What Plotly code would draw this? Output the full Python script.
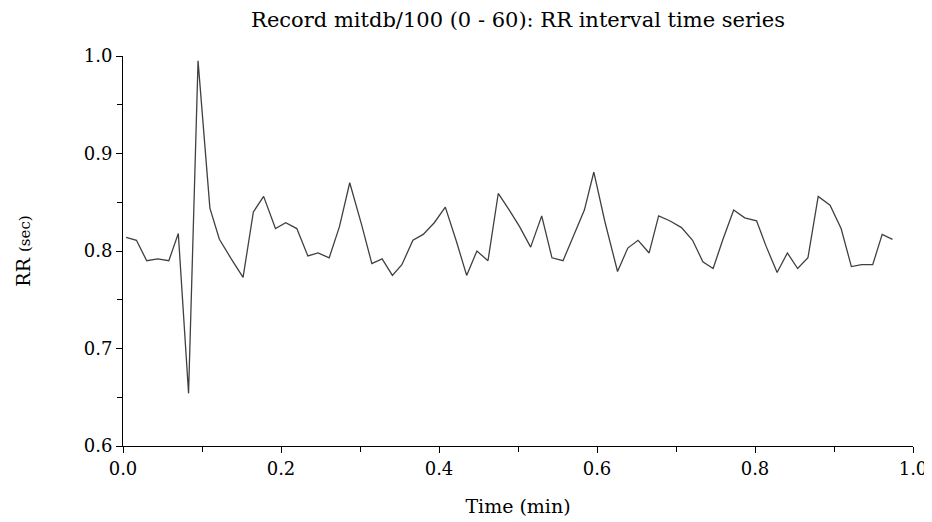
import plotly.graph_objects as go

# Beat times (minutes) and RR intervals (seconds)
time_min = [0.004, 0.017, 0.030, 0.044, 0.058, 0.070, 0.083, 0.095, 0.110, 0.122,
            0.137, 0.152, 0.165, 0.178, 0.193, 0.206, 0.220, 0.234, 0.247, 0.261,
            0.274, 0.287, 0.302, 0.315, 0.328, 0.341, 0.353, 0.367, 0.380, 0.394,
            0.408, 0.422, 0.435, 0.448, 0.462, 0.475, 0.489, 0.502, 0.516, 0.530,
            0.543, 0.557, 0.571, 0.584, 0.596, 0.610, 0.626, 0.639, 0.652, 0.666,
            0.678, 0.692, 0.707, 0.721, 0.734, 0.747, 0.759, 0.773, 0.787, 0.802,
            0.814, 0.828, 0.841, 0.854, 0.867, 0.880, 0.895, 0.909, 0.922, 0.935,
            0.949, 0.961, 0.974]
rr_sec = [0.814, 0.811, 0.790, 0.792, 0.790, 0.818, 0.654, 0.995, 0.844, 0.812,
          0.792, 0.773, 0.840, 0.856, 0.823, 0.829, 0.823, 0.795, 0.798, 0.793,
          0.825, 0.870, 0.827, 0.787, 0.792, 0.775, 0.786, 0.811, 0.817, 0.829,
          0.845, 0.810, 0.775, 0.800, 0.790, 0.859, 0.842, 0.825, 0.804, 0.836,
          0.793, 0.790, 0.817, 0.842, 0.881, 0.830, 0.779, 0.803, 0.811, 0.798,
          0.836, 0.831, 0.824, 0.811, 0.789, 0.782, 0.811, 0.842, 0.834, 0.831,
          0.805, 0.778, 0.798, 0.782, 0.793, 0.856, 0.847, 0.823, 0.784, 0.786,
          0.786, 0.817, 0.812]

x_ticks = [0.0, 0.2, 0.4, 0.6, 0.8, 1.0]
x_tick_labels = ["0.0", "0.2", "0.4", "0.6", "0.8", "1.0"]
y_ticks = [0.6, 0.7, 0.8, 0.9, 1.0]
y_tick_labels = ["0.6", "0.7", "0.8", "0.9", "1.0"]

FONT = "DejaVu Serif, Liberation Serif, serif"
W, H = 924, 514  # page body adds ~8px offset

fig = go.Figure()
fig.add_trace(go.Scatter(
    x=time_min, y=rr_sec, mode="lines",
    line=dict(color="#404040", width=1.3),
    hoverinfo="x+y", showlegend=False,
))

fig.update_layout(
    width=W, height=H,
    margin=dict(l=115, r=19, t=48, b=76, autoexpand=False),
    paper_bgcolor="white", plot_bgcolor="white",
    font=dict(family=FONT, size=16, color="black"),
    title=dict(
        text="Record mitdb/100 (0 - 60): RR interval time series",
        x=0.5, xref="paper", xanchor="center",
        y=1 - 12 / H, yref="container", yanchor="middle",
        font=dict(family=FONT, size=21, color="black"),
    ),
    xaxis=dict(
        range=[0, 1], tickvals=x_ticks, ticktext=x_tick_labels,
        showgrid=False, zeroline=False,
        showline=True, linecolor="black", linewidth=1,
        ticks="outside", ticklen=6, tickcolor="black", tickwidth=1,
        minor=dict(dtick=0.1, tick0=0, ticks="outside", ticklen=5,
                   tickcolor="black", tickwidth=1, showgrid=False),
        tickfont=dict(family=FONT, size=18),
        title=dict(text="Time (min)", standoff=22,
                   font=dict(family=FONT, size=19)),
    ),
    yaxis=dict(
        range=[0.6, 1.0], tickvals=y_ticks, ticktext=y_tick_labels,
        showgrid=False, zeroline=False,
        showline=True, linecolor="black", linewidth=1,
        ticks="outside", ticklen=6, tickcolor="black", tickwidth=1,
        minor=dict(dtick=0.05, tick0=0.6, ticks="outside", ticklen=5,
                   tickcolor="black", tickwidth=1, showgrid=False),
        tickfont=dict(family=FONT, size=18),
        title=dict(text="RR <span style='font-size:15px'>(sec)</span>",
                   standoff=48, font=dict(family=FONT, size=19)),
    ),
)

fig.write_html("out.html")
